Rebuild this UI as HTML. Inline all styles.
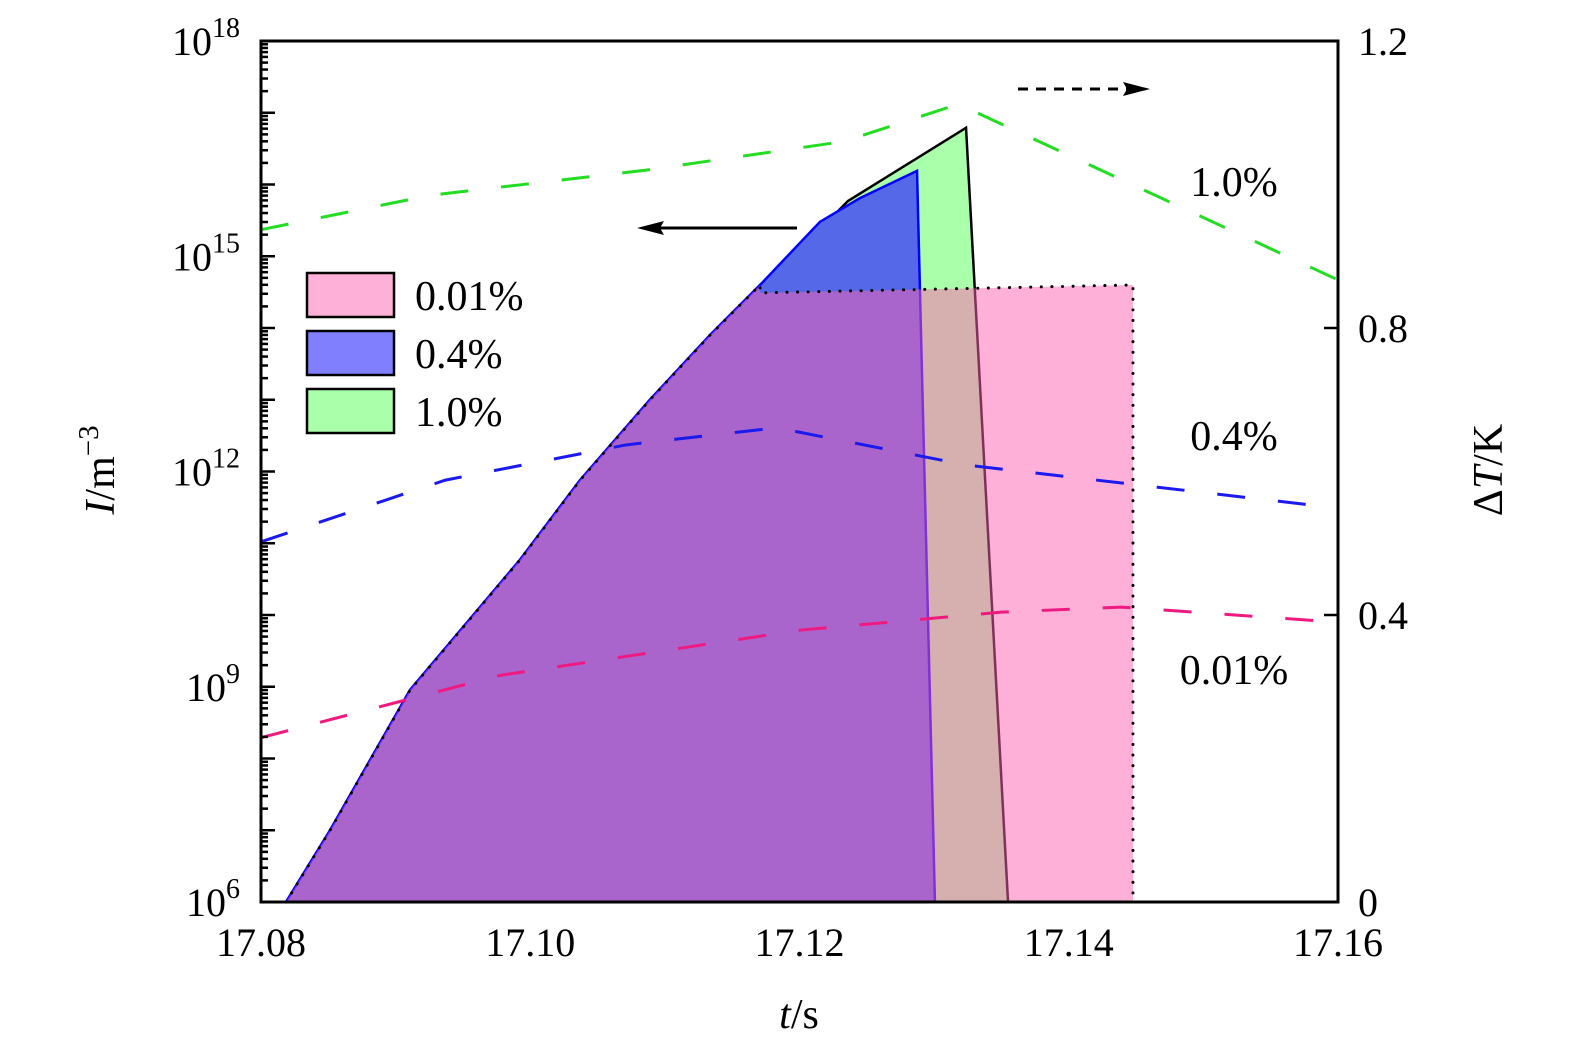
<!DOCTYPE html>
<html><head><meta charset="utf-8"><style>
html,body{margin:0;padding:0;background:#fff;width:1575px;height:1053px;overflow:hidden}
svg text{font-family:"Liberation Serif",serif;fill:#000}
</style></head><body>
<svg id="chart" width="1575" height="1053" xmlns="http://www.w3.org/2000/svg">
<g id="fills"></g>
<g id="lines"></g>
<g id="axes"></g>
</svg>
<script>
// ---- data ----
const riseT=[17.08186,17.08513,17.09107,17.09924,17.10370,17.10889,17.11335,17.11707,17.12004,17.12360];
const riseLog=[6.0,7.0,8.955,10.77,11.88,13.0,13.9,14.6,15.09,15.77];
const greenPeakT=17.13237, greenPeakLog=16.79, greenEndT=17.13549;
const blueTopT=[17.12152,17.12449,17.12873];
const blueTopLog=[15.48,15.81,16.19];
const blueEndT=17.13006;
const pinkFlatT=[17.11707,17.14477];
const pinkFlatLog=[14.49,14.60];
const dtT=[17.08,17.10,17.115,17.1286,17.1435,17.16];
const dtGreen=[0.937,0.985,1.02,1.06,1.112,0.867];
const greenT=[17.08,17.0926,17.1086,17.1233,17.1318,17.16];
const dtBlue=[0.502,0.588,0.637,0.661,0.609,0.549];
const blueT=[17.08,17.0937,17.1071,17.1183,17.1324,17.16];
const dtPink=[0.229,0.316,0.379,0.404,0.411,0.390];
const pinkT=[17.08,17.0978,17.1201,17.135,17.1439,17.16];
const xTicks=[17.08,17.10,17.12,17.14,17.16];
const xTickLabels=["17.08","17.10","17.12","17.14","17.16"];
const yDecades=[6,9,12,15,18];
const rTicks=[0,0.4,0.8,1.2];
const rTickLabels=["0","0.4","0.8","1.2"];
// ---- axes ----
const L=261,R=1338,T=41,B=902;
const X=t=>L+(t-17.08)/0.08*(R-L);
const Y=lg=>B-(lg-6)/12*(B-T);
const YR=v=>B-v/1.2*(B-T);
const NS="http://www.w3.org/2000/svg";
function mk(tag,attrs,parent,txt){const e=document.createElementNS(NS,tag);for(const k in attrs)e.setAttribute(k,attrs[k]);if(txt!==undefined)e.textContent=txt;document.getElementById(parent).appendChild(e);return e;}
const pts=(ts,vs,fy)=>ts.map((t,i)=>X(t)+','+fy(vs[i])).join(' ');
// fills
let g=mk('polygon',{points:pts(riseT,riseLog,Y)+' '+X(greenPeakT)+','+Y(greenPeakLog)+' '+X(greenEndT)+','+B,fill:'#aaffaa',stroke:'#000','stroke-width':2.5},'fills');


let bi=riseT.length-2;
let b=mk('polygon',{points:pts(riseT.slice(0,bi),riseLog.slice(0,bi),Y)+' '+pts(blueTopT,blueTopLog,Y)+' '+X(blueEndT)+','+B,fill:'#5468e8',stroke:'#0000ff','stroke-width':2.5},'fills');


let p=mk('polygon',{points:pts(riseT.slice(0,8),riseLog.slice(0,8),Y)+' '+pts(pinkFlatT,pinkFlatLog,Y)+' '+X(pinkFlatT[1])+','+B,fill:'#ff61b1','fill-opacity':0.5},'fills');


let pd=mk('polyline',{points:pts(riseT.slice(0,8),riseLog.slice(0,8),Y)+' '+pts(pinkFlatT,pinkFlatLog,Y)+' '+X(pinkFlatT[1])+','+B,fill:'none',stroke:'#000','stroke-width':3,'stroke-dasharray':'0.1 10.5','stroke-linecap':'round'},'fills');


// dashed ΔT lines
[[greenT,dtGreen,'#22dd22','dt-1pct'],[blueT,dtBlue,'#1a1aee','dt-0.4pct'],[pinkT,dtPink,'#ee1a80','dt-0.01pct']].forEach(s=>{
 const e=mk('polyline',{points:pts(s[0],s[1],YR),fill:'none',stroke:s[2],'stroke-width':3,'stroke-dasharray':'28 33'},'lines');
 
 
});
// arrows
let a1=mk('path',{d:'M797 228 L660 228',stroke:'#000','stroke-width':3,fill:'none'},'lines');


let a1h=mk('path',{d:'M637 228 L664 221 L660 228 L664 235 Z',fill:'#000'},'lines');


let a2=mk('path',{d:'M1018 89 L1128 89',stroke:'#000','stroke-width':3,fill:'none','stroke-dasharray':'10 8'},'lines');


let a2h=mk('path',{d:'M1150 89 L1123 82 L1127 89 L1123 96 Z',fill:'#000'},'lines');


// frame
let fr=mk('rect',{x:L,y:T,width:R-L,height:B-T,fill:'none',stroke:'#000','stroke-width':3},'axes');


// left ticks
for(let d=6;d<18;d++){
 for(let m=1;m<10;m++){
  const y=Y(d+Math.log10(m));
  const len=m===1?14:7;
  const tk=mk('line',{x1:L,x2:L+len,y1:y,y2:y,stroke:'#000','stroke-width':2.5},'axes');
  
  
 }
}
yDecades.forEach(d=>{
 const y=Y(d);
 const t=mk('text',{x:240,y:y+14,'text-anchor':'end','font-size':40},'axes');
 
 
 t.innerHTML='10<tspan dy="-18" font-size="28">'+d+'</tspan>';
});
xTicks.forEach((v,i)=>{
 const t=mk('text',{x:X(v),y:956,'text-anchor':'middle','font-size':40},'axes',xTickLabels[i]);
 
 
});
rTicks.forEach((v,i)=>{
 const y=YR(v);
 const tk=mk('line',{x1:R-14,x2:R,y1:y,y2:y,stroke:'#000','stroke-width':2.5},'axes');
 
 
 const t=mk('text',{x:1358,y:y+14,'font-size':40},'axes',rTickLabels[i]);
 
 
});
// titles
let xt=mk('text',{x:799,y:1028,'text-anchor':'middle','font-size':42},'axes');


xt.innerHTML='<tspan font-style="italic">t</tspan>/s';
let yt=mk('text',{x:0,y:0,'text-anchor':'middle','font-size':42,transform:'translate(114 470) rotate(-90)'},'axes');


yt.innerHTML='<tspan font-style="italic">I</tspan>/m<tspan dy="-16" font-size="29">−3</tspan>';
let rt=mk('text',{x:0,y:0,'text-anchor':'middle','font-size':42,transform:'translate(1502 470) rotate(-90)'},'axes');


rt.innerHTML='Δ<tspan font-style="italic">T</tspan>/K';
// series labels
[['1.0%',196,'label-1pct'],['0.4%',450,'label-0.4pct'],['0.01%',684,'label-0.01pct']].forEach(s=>{
 const t=mk('text',{x:1234,y:s[1],'text-anchor':'middle','font-size':42},'axes',s[0]);
 
 
});
// legend
[['#feb0d8','0.01%',273],['#8080ff','0.4%',331],['#aaffaa','1.0%',389]].forEach(s=>{
 const r=mk('rect',{x:307,y:s[2],width:87,height:44,fill:s[0],stroke:'#000','stroke-width':2.5},'axes');
 
 
 const t=mk('text',{x:415,y:s[2]+37,'font-size':42},'axes',s[1]);
 
 
});
</script>
</body></html>
